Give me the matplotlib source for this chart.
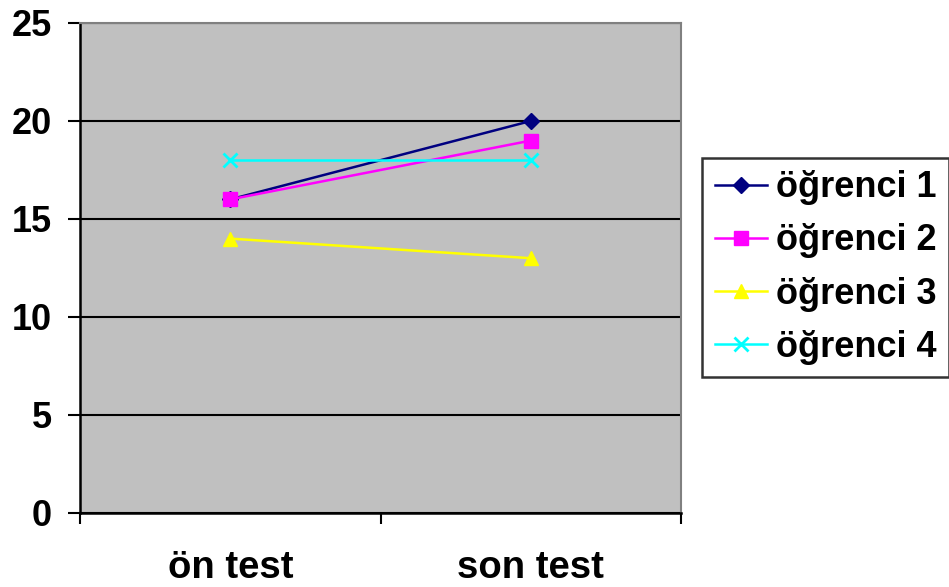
import matplotlib
matplotlib.use("Agg")
import matplotlib.pyplot as plt

# data
categories = ["ön test", "son test"]
series_names = ["öğrenci 1", "öğrenci 2", "öğrenci 3", "öğrenci 4"]
ogrenci1 = [16, 20]
ogrenci2 = [16, 19]
ogrenci3 = [14, 13]
ogrenci4 = [18, 18]

values = [ogrenci1, ogrenci2, ogrenci3, ogrenci4]
colors = ["#000080", "#FF00FF", "#FFFF00", "#00FFFF"]
markers = ["D", "s", "^", "x"]
msizes = [8, 10, 10, 10]

plt.rcParams["font.family"] = ["Liberation Sans", "DejaVu Sans"]
plt.rcParams["font.weight"] = "bold"

fig = plt.figure(figsize=(9.49, 5.87), dpi=100)
ax = fig.add_axes([80 / 949, 1 - 513 / 587, 601 / 949, 490 / 587])
ax.set_facecolor("#C0C0C0")

x = [i + 0.5 for i in range(len(categories))]
for name, vals, c, m, ms in zip(series_names, values, colors, markers, msizes):
    ax.plot(x, vals, color=c, marker=m, markersize=ms, linewidth=1.8,
            markeredgewidth=2 if m == "x" else 1, label=name, zorder=3)

ax.set_xlim(0, len(categories))
ax.set_ylim(0, 25)
ax.set_yticks([0, 5, 10, 15, 20, 25])
ax.yaxis.grid(True, color="black", linewidth=1.5)
ax.set_axisbelow(True)

ax.set_xticks(range(len(categories) + 1))
ax.set_xticklabels([])
ax.set_xticks(x, minor=True)
ax.set_xticklabels(categories, minor=True)
ax.tick_params(axis="x", which="major", direction="out", length=8, width=1.5)
ax.tick_params(axis="x", which="minor", length=0, pad=27, labelsize=27.5)
ax.tick_params(axis="y", direction="out", length=8.5, width=1.5, pad=12, labelsize=26)

ax.spines["left"].set_color("black")
ax.spines["bottom"].set_color("black")
ax.spines["left"].set_linewidth(1.8)
ax.spines["bottom"].set_linewidth(1.8)
ax.spines["top"].set_color("#808080")
ax.spines["right"].set_color("#808080")
ax.spines["top"].set_linewidth(1.5)
ax.spines["right"].set_linewidth(1.5)

leg = fig.legend(loc="center left", bbox_to_anchor=(702 / 949, 1 - 267.5 / 587),
                 fontsize=26, frameon=True, fancybox=False, edgecolor="black",
                 handlelength=1.45, handletextpad=0.25, labelspacing=0.5,
                 borderpad=0.35, borderaxespad=0)
leg.get_frame().set_linewidth(1.8)

fig.savefig("out.png", dpi=100)
